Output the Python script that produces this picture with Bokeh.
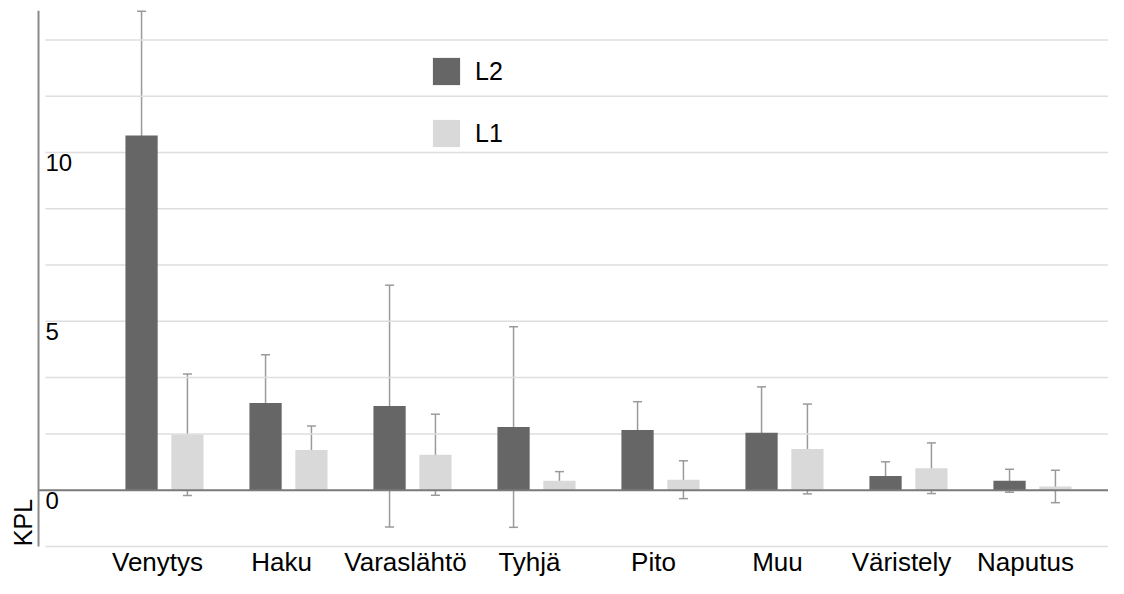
import numpy as np
from bokeh.plotting import figure
from bokeh.models import ColumnDataSource, Range1d, Whisker, TeeHead, Label, Legend, LegendItem
from bokeh.transform import dodge
from bokeh.core.properties import value
from bokeh.embed import file_html
from bokeh.resources import INLINE

# ---- data ----
categories = ["Venytys", "Haku", "Varaslähtö", "Tyhjä", "Pito", "Muu", "Väristely", "Naputus"]
l2_values = [10.50, 2.58, 2.49, 1.87, 1.78, 1.70, 0.42, 0.28]
l2_errors = [3.68, 1.43, 3.58, 2.97, 0.84, 1.36, 0.42, 0.34]
l1_values = [1.64, 1.19, 1.05, 0.28, 0.31, 1.22, 0.65, 0.11]
l1_errors = [1.80, 0.71, 1.20, 0.27, 0.56, 1.33, 0.75, 0.48]
y_tick_labels = [0, 5, 10]
grid_step = 5 / 3
y_axis_label = "KPL"

FONT = "Liberation Sans"
DARK = "#666666"
LIGHT = "#d9d9d9"
ERR = "#9a9a9a"

n = len(categories)
idx = np.arange(n)
l2 = np.array(l2_values)
l1 = np.array(l1_values)
src = ColumnDataSource(dict(
    x=idx,
    l2=l2, l2_up=l2 + np.array(l2_errors), l2_lo=l2 - np.array(l2_errors),
    l1=l1, l1_up=l1 + np.array(l1_errors), l1_lo=l1 - np.array(l1_errors),
))

X0, X1 = -1.3226, 7.613
Y0, Y1 = -2.615, 14.50
p = figure(width=1108, height=578, x_range=Range1d(X0, X1), y_range=Range1d(Y0, Y1),
           x_axis_type=None, y_axis_type=None, output_backend="svg",
           toolbar_location=None, min_border=0)
p.outline_line_color = None
p.background_fill_color = "white"

axis_x = -1.016
grid_x0 = -0.96
grid_y = [k * grid_step for k in range(-1, 9) if k != 0]
p.segment(x0=[grid_x0] * len(grid_y), x1=[X1] * len(grid_y), y0=grid_y, y1=grid_y,
          line_color="#dedede", line_width=1.5)

off = 0.185
bw = 0.26
r2 = p.vbar(x=dodge("x", -off), top="l2", bottom=0, width=bw, source=src,
            fill_color=DARK, line_color=None)
r1 = p.vbar(x=dodge("x", off), top="l1", bottom=0, width=bw, source=src,
            fill_color=LIGHT, line_color=None)

# zero line and vertical axis line
p.segment(x0=[axis_x], x1=[X1], y0=[0], y1=[0], line_color="#7a7a7a", line_width=2)
p.segment(x0=[axis_x], x1=[axis_x], y0=[-grid_step], y1=[14.2], line_color="#8a8a8a", line_width=2)

for col, o in (("l2", -off), ("l1", off)):
    w = Whisker(source=src, base=dodge("x", o), upper=col + "_up", lower=col + "_lo",
                line_color=ERR, line_width=1.5,
                upper_head=TeeHead(size=9, line_color=ERR, line_width=1.5),
                lower_head=TeeHead(size=9, line_color=ERR, line_width=1.5))
    p.add_layout(w)

# y tick labels (inside the plot, right of the axis line)
p.text(x=[grid_x0] * len(y_tick_labels), y=y_tick_labels, text=[str(t) for t in y_tick_labels],
       text_font=value(FONT), text_font_size="24px", text_color="black",
       text_align="left", text_baseline="top", y_offset=2)

# category labels
p.text(x=idx, y=[-1.697] * n, text=categories, text_font=value(FONT), text_font_size="26px",
       text_color="black", text_align="center", text_baseline="top", x_offset=-7)

p.add_layout(Label(x=22, y=56, x_units="screen", y_units="screen", text=y_axis_label,
                   angle=np.pi / 2, text_align="center", text_baseline="middle",
                   text_font=FONT, text_font_size="25px", text_color="black"))

legend = Legend(items=[LegendItem(label="L2", renderers=[r2]), LegendItem(label="L1", renderers=[r1])],
                location=(429, 428), orientation="vertical",
                glyph_width=34, glyph_height=34, label_height=34, spacing=28,
                padding=0, margin=0, label_standoff=12,
                border_line_color=None, background_fill_alpha=0,
                label_text_font=FONT, label_text_font_size="25px", label_text_color="black")
p.add_layout(legend)

open("out.html", "w").write(file_html(p, INLINE))
